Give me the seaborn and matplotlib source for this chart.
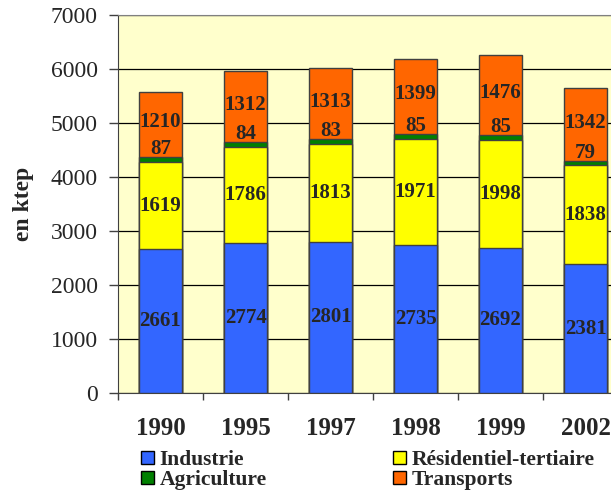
import matplotlib
matplotlib.use("Agg")
import matplotlib.pyplot as plt
from matplotlib.patches import Patch
import seaborn as sns
import pandas as pd
import numpy as np

# données (ktep)
years = ["1990", "1995", "1997", "1998", "1999", "2002"]
industrie = [2661, 2774, 2801, 2735, 2692, 2381]
residentiel = [1619, 1786, 1813, 1971, 1998, 1838]
agriculture = [87, 84, 83, 85, 85, 79]
transports = [1210, 1312, 1313, 1399, 1476, 1342]

series = ["Industrie", "Résidentiel-tertiaire", "Agriculture", "Transports"]
colors = ["#3366FF", "#FFFF00", "#008000", "#FF6600"]

sns.set_style("white")
plt.rcParams["font.family"] = ["Liberation Serif", "DejaVu Serif"]

df = pd.DataFrame({"year": years, "Industrie": industrie,
                   "Résidentiel-tertiaire": residentiel,
                   "Agriculture": agriculture, "Transports": transports})
cum = df[series].cumsum(axis=1)

fig = plt.figure(figsize=(6.11, 4.94), dpi=100)
ax = fig.add_axes([118 / 611, 101 / 494, 510 / 611, 378 / 494])
ax.set_facecolor("#FFFFCC")

# empiler : on dessine les cumuls du plus grand au plus petit
for name, col in zip(series[::-1], colors[::-1]):
    sns.barplot(x=df["year"], y=cum[name], color=col, width=0.5,
                edgecolor="#404040", linewidth=1, saturation=1, ax=ax, zorder=3)

ax.set_ylim(0, 7000)
ax.set_xlim(-0.5, 5.5)
ax.set_yticks(range(0, 7001, 1000))
ax.yaxis.grid(True, color="black", linewidth=0.9, zorder=0)
ax.set_axisbelow(True)

for s in ["left", "bottom"]:
    ax.spines[s].set_color("#404040")
ax.spines["top"].set_color("#808080")
ax.spines["right"].set_visible(False)

ax.tick_params(axis="y", direction="out", length=6.5, width=1, color="#404040",
               pad=8, labelsize=17, left=True)
ax.set_xticks(np.arange(len(years)))
ax.set_xticklabels(years, fontweight="bold")
ax.set_xticks(np.arange(-0.5, len(years), 1), minor=True)
ax.tick_params(axis="x", which="major", length=0, pad=17, labelsize=18)
ax.tick_params(axis="x", which="minor", direction="out", length=5, width=1,
               color="#404040", bottom=True)
ax.set_xlabel("")
ax.set_ylabel("en ktep", fontsize=17, fontweight="bold", labelpad=12)

# étiquettes de valeurs
lab = dict(ha="center", va="center", fontsize=15, fontweight="bold", zorder=5)
for i in range(len(years)):
    ax.text(i, industrie[i] / 2, str(industrie[i]), **lab)
    ax.text(i, industrie[i] + residentiel[i] / 2, str(residentiel[i]), **lab)
    green_top = cum["Agriculture"][i]
    ax.text(i, green_top + 150, str(agriculture[i]), **lab)
    ax.text(i, green_top + transports[i] / 2 + 40, str(transports[i]), **lab)

handles = [Patch(facecolor=c, edgecolor="black", linewidth=1) for c in colors]
order = [0, 2, 1, 3]
fig.legend([handles[k] for k in order], [series[k] for k in order],
           ncol=2, loc="upper left", bbox_to_anchor=(141 / 611, 1 - 450 / 494),
           frameon=False, prop={"size": 15.5, "weight": "bold"},
           handlelength=0.6, handleheight=0.6, handletextpad=0.25,
           labelspacing=0.0, columnspacing=5.9, borderpad=0, borderaxespad=0)

fig.savefig("out.png", dpi=100)
